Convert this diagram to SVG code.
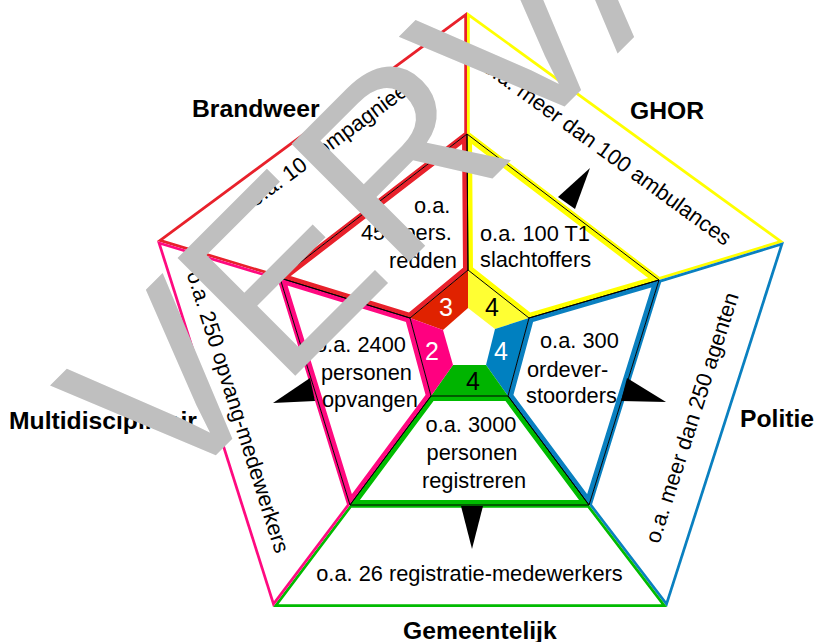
<svg xmlns="http://www.w3.org/2000/svg" width="814" height="642" viewBox="0 0 814 642">
<style>
text { font-family: "Liberation Sans", Arial, sans-serif; fill: #000; }
.t { font-size: 21.8px; }
.m { text-anchor: middle; }
.lbl { font-size: 24.7px; font-weight: bold; }
.num { font-size: 25px; text-anchor: middle; }
.ob { fill: #fff; stroke-width: 5.5; }
.mb { fill: #fff; stroke-width: 10; }
.ol { fill: none; stroke: #000; stroke-width: 1; }
.sr { stroke: #e8212b; } .sy { stroke: #ffff00; } .sb { stroke: #0a80c0; } .sg { stroke: #00bb00; } .sm { stroke: #ff0a80; }
.fr { fill: #e02200; } .fy { fill: #ffff33; } .fb { fill: #0080c0; } .fg { fill: #00b400; } .fm { fill: #ff0080; }
.arr { fill: #000; }
.wm { font-size: 242px; fill: #bfbfbf; }
</style>
<defs>
<clipPath id="c-or"><polygon points="157,241 467,12 467,134 280,278"/></clipPath>
<clipPath id="c-oy"><polygon points="467,12 784,242 659,280 467,134"/></clipPath>
<clipPath id="c-ob"><polygon points="784,242 667,607 589,505 659,280"/></clipPath>
<clipPath id="c-og"><polygon points="667,607 273,607 350,505 589,505"/></clipPath>
<clipPath id="c-om"><polygon points="273,607 157,241 280,278 350,505"/></clipPath>
<clipPath id="c-mr"><polygon points="280,278 467,134 468,270 410,318"/></clipPath>
<clipPath id="c-my"><polygon points="467,134 659,280 529,318 468,270"/></clipPath>
<clipPath id="c-mb"><polygon points="659,280 589,505 508,396 529,318"/></clipPath>
<clipPath id="c-mg"><polygon points="589,505 350,505 431,396 508,396"/></clipPath>
<clipPath id="c-mm"><polygon points="350,505 280,278 410,318 431,396"/></clipPath>
</defs>
<rect width="814" height="642" fill="#fff"/>

<g id="brandweer">
<polygon class="ob sr" clip-path="url(#c-or)" points="157,241 467,12 467,134 280,278"/>
<polygon class="mb sr" clip-path="url(#c-mr)" points="280,278 467,134 468,270 410,318"/>
<polygon class="fr" points="410,318 468,270 468,308 443,330"/>
<text class="num" x="446" y="316" style="fill:#fff">3</text>
<text class="t" x="414" y="213">o.a.</text>
<text class="t" x="361" y="240">450 pers.</text>
<text class="t" x="389" y="268">redden</text>
<text class="t m" transform="translate(337,147) rotate(-36.4)">o.a. 10 compagnieën</text>
<text class="lbl" x="192" y="117">Brandweer</text>
</g>

<g id="ghor">
<polygon class="ob sy" clip-path="url(#c-oy)" points="467,12 784,242 659,280 467,134"/>
<polygon class="mb sy" clip-path="url(#c-my)" points="467,134 659,280 529,318 468,270"/>
<polygon class="fy" points="468,270 529,318 495,329 468,308"/>
<text class="num" x="492" y="316">4</text>
<text class="t" x="480" y="241">o.a. 100 T1</text>
<text class="t" x="480" y="267">slachtoffers</text>
<text class="t m" transform="translate(603,158) rotate(36)">o.a. meer dan 100 ambulances</text>
<text class="lbl" x="630" y="119">GHOR</text>
</g>

<g id="politie">
<polygon class="ob sb" clip-path="url(#c-ob)" points="784,242 667,607 589,505 659,280"/>
<polygon class="mb sb" clip-path="url(#c-mb)" points="659,280 589,505 508,396 529,318"/>
<polygon class="fb" points="529,318 508,396 486,365 495,329"/>
<text class="num" x="501" y="360" style="fill:#fff">4</text>
<text class="t" x="540" y="348">o.a. 300</text>
<text class="t" x="527" y="377">ordever-</text>
<text class="t" x="526" y="403">stoorders</text>
<text class="t m" transform="translate(699,420) rotate(-72.2)">o.a. meer dan 250 agenten</text>
<text class="lbl" x="740" y="427">Politie</text>
</g>

<g id="gemeentelijk">
<polygon class="ob sg" clip-path="url(#c-og)" points="667,607 273,607 350,505 589,505"/>
<polygon class="mb sg" clip-path="url(#c-mg)" points="589,505 350,505 431,396 508,396"/>
<polygon class="fg" points="508,396 431,396 453,365 486,365"/>
<text class="num" x="473" y="390">4</text>
<text class="t m" x="471" y="432">o.a. 3000</text>
<text class="t m" x="472" y="460">personen</text>
<text class="t m" x="474" y="488">registreren</text>
<text class="t m" x="469.5" y="581">o.a. 26 registratie-medewerkers</text>
<text class="lbl" x="403" y="639">Gemeentelijk</text>
</g>

<g id="multidisciplinair">
<polygon class="ob sm" clip-path="url(#c-om)" points="273,607 157,241 280,278 350,505"/>
<polygon class="mb sm" clip-path="url(#c-mm)" points="350,505 280,278 410,318 431,396"/>
<polygon class="fm" points="431,396 410,318 443,330 453,365"/>
<text class="num" x="432" y="360" style="fill:#fff">2</text>
<text class="t" x="315" y="352">o.a. 2400</text>
<text class="t" x="321" y="380">personen</text>
<text class="t" x="322" y="407">opvangen</text>
<text class="t m" transform="translate(231,414) rotate(72.4)">o.a. 250 opvang-medewerkers</text>
<text class="lbl" x="9" y="429">Multidisciplinair</text>
</g>

<g id="ring-lines">
<polygon class="ol" points="280,278 467,134 468,270 410,318"/>
<polygon class="ol" points="467,134 659,280 529,318 468,270"/>
<polygon class="ol" points="659,280 589,505 508,396 529,318"/>
<polygon class="ol" points="589,505 350,505 431,396 508,396"/>
<polygon class="ol" points="350,505 280,278 410,318 431,396"/>
</g>

<g id="connectors">
<polygon class="arr" points="590,168 558,197 575,209"/>
<polygon class="arr" points="344,168 376,197 359,209"/>
<polygon class="arr" points="666,402 627,378 621,401"/>
<polygon class="arr" points="472,549 461,506 483,506"/>
<polygon class="arr" points="273,403 310,378 315,401"/>
</g>

<text class="wm" transform="translate(167,504) rotate(-45)">VERVALLEN</text>
</svg>
